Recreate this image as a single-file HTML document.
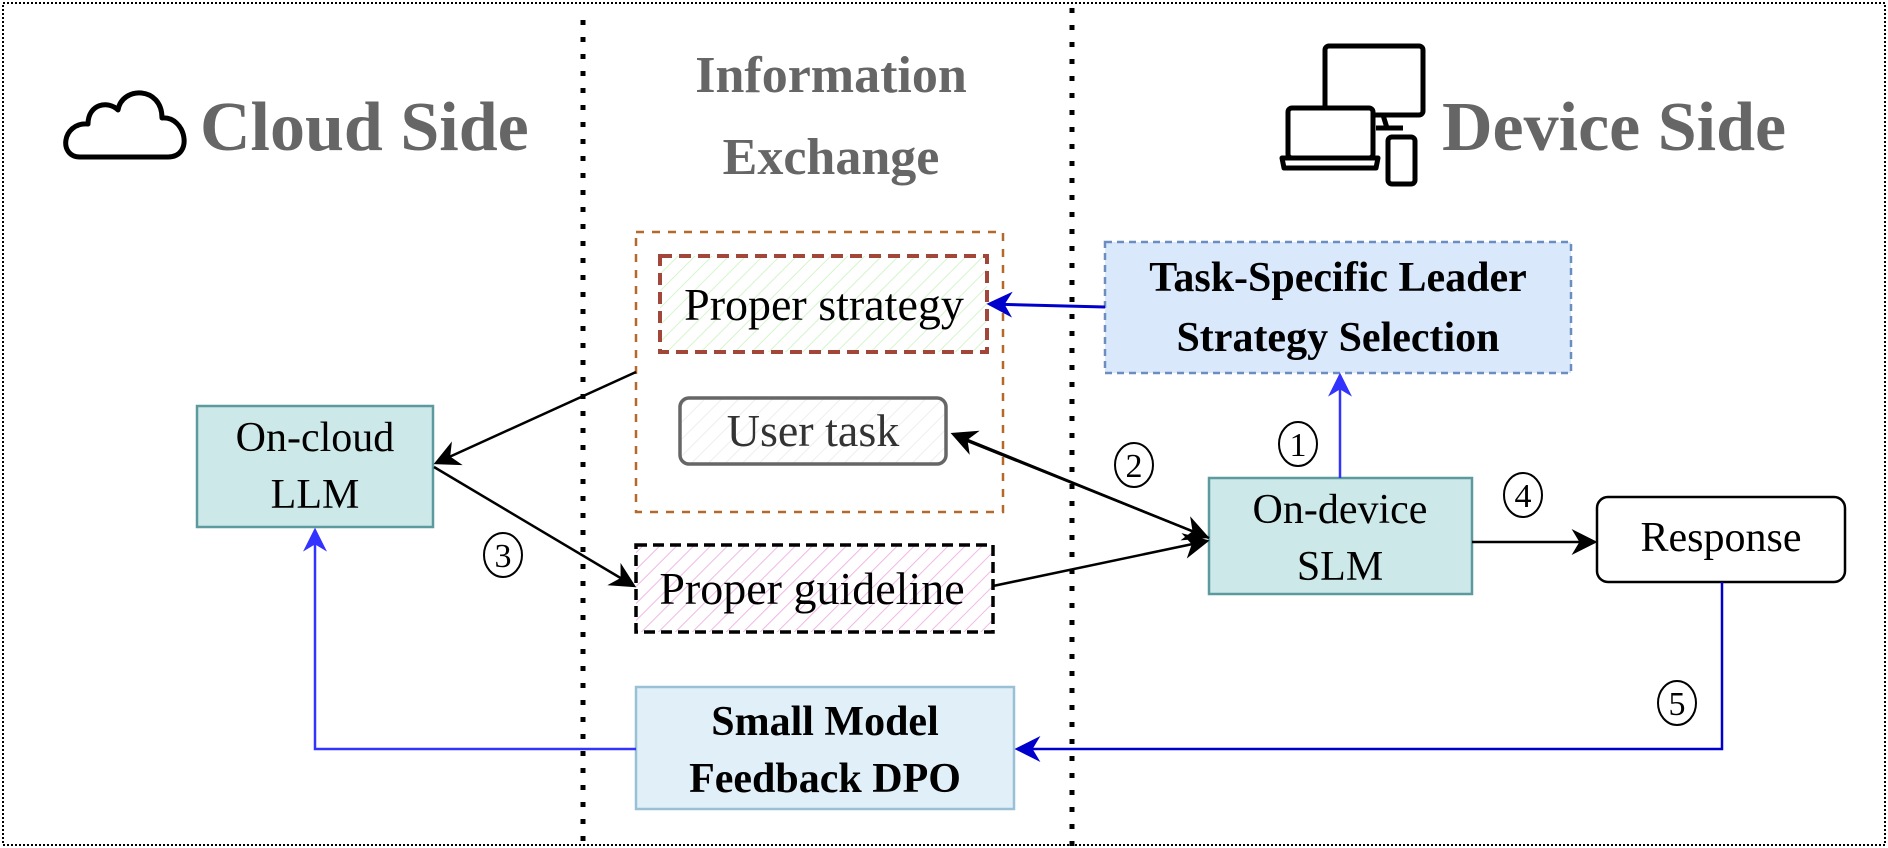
<!DOCTYPE html>
<html><head><meta charset="utf-8"><style>
html,body{margin:0;padding:0;background:#fff}
svg{display:block}
text{font-family:"Liberation Serif",serif}
</style></head><body>
<svg width="1888" height="848" viewBox="0 0 1888 848" xmlns="http://www.w3.org/2000/svg">
<defs>
<pattern id="hg" width="12" height="12" patternUnits="userSpaceOnUse" patternTransform="rotate(45)"><rect width="12" height="12" fill="#fff"/><line x1="0" y1="0" x2="0" y2="12" stroke="#d5f5cc" stroke-width="2"/></pattern>
<pattern id="hp" width="12" height="12" patternUnits="userSpaceOnUse" patternTransform="rotate(45)"><rect width="12" height="12" fill="#fff"/><line x1="0" y1="0" x2="0" y2="12" stroke="#f0b8e6" stroke-width="2"/></pattern>
<pattern id="hu" width="12" height="12" patternUnits="userSpaceOnUse" patternTransform="rotate(45)"><rect width="12" height="12" fill="#fff"/><line x1="0" y1="0" x2="0" y2="12" stroke="#eeeeee" stroke-width="2"/></pattern>
<marker id="ak2" viewBox="0 0 10 10" refX="9" refY="5" markerWidth="26" markerHeight="26" markerUnits="userSpaceOnUse" orient="auto"><path d="M0,0 L10,5 L0,10 L3,5 z" fill="#000"/></marker>
<marker id="ab" viewBox="0 0 10 10" refX="9" refY="5" markerWidth="26" markerHeight="26" markerUnits="userSpaceOnUse" orient="auto"><path d="M0,0 L10,5 L0,10 L3,5 z" fill="#0000cc"/></marker>
<marker id="ab2" viewBox="0 0 10 10" refX="9" refY="5" markerWidth="24" markerHeight="24" markerUnits="userSpaceOnUse" orient="auto"><path d="M0,0 L10,5 L0,10 L3,5 z" fill="#3333ff"/></marker>
</defs>
<rect x="3" y="3" width="1882" height="842" fill="none" stroke="#000" stroke-width="2" stroke-dasharray="2,2"/>
<line x1="583" y1="20" x2="583" y2="846" stroke="#000" stroke-width="5" stroke-dasharray="5,12"/>
<line x1="1072" y1="8" x2="1072" y2="846" stroke="#000" stroke-width="5" stroke-dasharray="5,12"/>

<path d="M80,157 C58,157 62,122 88,124 C88,104 108,100 118,110 C122,86 162,86 162,118 C186,116 194,157 168,157 Z" fill="none" stroke="#000" stroke-width="5" stroke-linejoin="round"/>
<text x="200" y="150" font-size="70" font-weight="bold" fill="#666">Cloud Side</text>
<text x="831" y="92" font-size="52" font-weight="bold" fill="#666" text-anchor="middle">Information</text>
<text x="831" y="174" font-size="52" font-weight="bold" fill="#666" text-anchor="middle">Exchange</text>
<g fill="none" stroke="#000" stroke-width="5" stroke-linejoin="round">
<rect x="1325" y="46" width="98" height="69" rx="4"/>
<line x1="1383" y1="115" x2="1387" y2="128"/><line x1="1376" y1="128" x2="1403" y2="128"/>
<rect x="1288" y="108" width="85" height="50" rx="4" fill="#fff"/>
<path d="M1282,158 L1378,158 L1376,168 L1284,168 Z" fill="#fff"/>
<rect x="1388" y="137" width="27" height="47" rx="4" fill="#fff"/>
</g>
<text x="1442" y="150" font-size="70" font-weight="bold" fill="#666">Device Side</text>

<rect x="636" y="232" width="367" height="280" fill="none" stroke="#b4682a" stroke-width="2.5" stroke-dasharray="8,8"/>
<rect x="660" y="256" width="327" height="96" fill="url(#hg)" stroke="#a3463a" stroke-width="4" stroke-dasharray="12,7"/>
<text x="824" y="320" font-size="46" text-anchor="middle">Proper strategy</text>
<rect x="680" y="398" width="266" height="66" rx="9" fill="url(#hu)" stroke="#666" stroke-width="3.5"/>
<text x="813" y="446" font-size="46" text-anchor="middle" fill="#333">User task</text>
<rect x="636" y="545" width="357" height="87" fill="url(#hp)" stroke="#000" stroke-width="3.5" stroke-dasharray="11,6"/>
<text x="812" y="604" font-size="46" text-anchor="middle">Proper guideline</text>

<rect x="1105" y="242" width="466" height="131" fill="#dae8fc" stroke="#6c8ebf" stroke-width="2.5" stroke-dasharray="7,5"/>
<text x="1338" y="291" font-size="42" font-weight="bold" text-anchor="middle">Task-Specific Leader</text>
<text x="1338" y="351" font-size="42" font-weight="bold" text-anchor="middle">Strategy Selection</text>

<rect x="197" y="406" width="236" height="121" fill="#cde8e8" stroke="#5c9a9e" stroke-width="2.5"/>
<text x="315" y="451" font-size="42" text-anchor="middle">On-cloud</text>
<text x="315" y="508" font-size="42" text-anchor="middle">LLM</text>

<rect x="1209" y="478" width="263" height="116" fill="#cde8e8" stroke="#5c9a9e" stroke-width="2.5"/>
<text x="1340" y="523" font-size="42" text-anchor="middle">On-device</text>
<text x="1340" y="580" font-size="42" text-anchor="middle">SLM</text>

<rect x="1597" y="497" width="248" height="85" rx="11" fill="#fff" stroke="#000" stroke-width="2.5"/>
<text x="1721" y="551" font-size="42" text-anchor="middle">Response</text>

<rect x="636" y="687" width="378" height="122" fill="#e1f0f8" stroke="#9ac0d6" stroke-width="2.5"/>
<text x="825" y="735" font-size="42" font-weight="bold" text-anchor="middle">Small Model</text>
<text x="825" y="792" font-size="42" font-weight="bold" text-anchor="middle">Feedback DPO</text>

<line x1="1105" y1="307" x2="989" y2="304" stroke="#0000cc" stroke-width="3" marker-end="url(#ab)"/>
<line x1="1340" y1="478" x2="1340" y2="375" stroke="#3333ff" stroke-width="2.5" marker-end="url(#ab2)"/>
<line x1="636" y1="372" x2="436" y2="463" stroke="#000" stroke-width="2.5" marker-end="url(#ak2)"/>
<line x1="434" y1="467" x2="634" y2="586" stroke="#000" stroke-width="2.5" marker-end="url(#ak2)"/>
<line x1="1209" y1="538" x2="953" y2="434" stroke="#000" stroke-width="2.5" marker-end="url(#ak2)"/>
<line x1="955" y1="436" x2="1207" y2="537" stroke="#000" stroke-width="2.5" marker-end="url(#ak2)"/>
<line x1="993" y1="586" x2="1207" y2="541" stroke="#000" stroke-width="2.5" marker-end="url(#ak2)"/>
<line x1="1472" y1="542" x2="1595" y2="542" stroke="#000" stroke-width="2.5" marker-end="url(#ak2)"/>
<polyline points="1722,582 1722,749 1017,749" fill="none" stroke="#0000cc" stroke-width="2.5" marker-end="url(#ab)"/>
<polyline points="636,749 315,749 315,530" fill="none" stroke="#3333ff" stroke-width="2.5" marker-end="url(#ab2)"/>

<g fill="#fff" stroke="#000" stroke-width="2">
<ellipse cx="1298" cy="444" rx="19" ry="22"/>
<ellipse cx="1134" cy="465" rx="19" ry="22"/>
<ellipse cx="503" cy="555" rx="19" ry="22"/>
<ellipse cx="1523" cy="495" rx="19" ry="22"/>
<ellipse cx="1677" cy="703" rx="19" ry="22"/>
</g>
<g font-size="34" text-anchor="middle">
<text x="1298" y="456">1</text>
<text x="1134" y="477">2</text>
<text x="503" y="567">3</text>
<text x="1523" y="507">4</text>
<text x="1677" y="715">5</text>
</g>
</svg>
</body></html>
